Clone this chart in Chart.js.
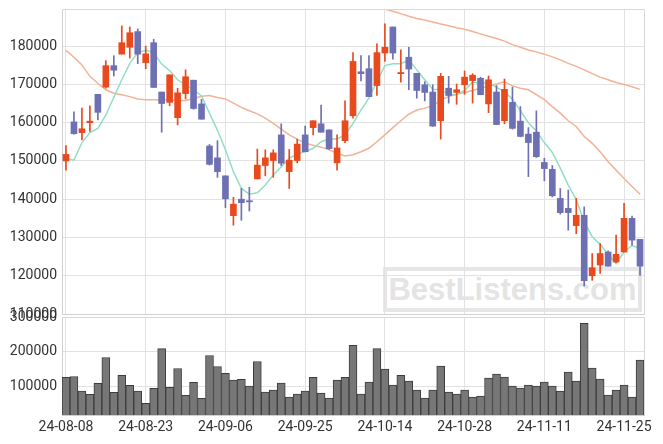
<!DOCTYPE html>
<html>
<head>
<meta charset="utf-8">
<script src="https://cdn.jsdelivr.net/npm/chart.js@4.4.1/dist/chart.umd.min.js"></script>
<style>
body { margin: 0; background: #fff; width: 663px; height: 444px; overflow: hidden; position: relative; }
#mark { position: absolute; left: 383px; top: 267px; width: 251px; height: 37px; border: 4px solid #e6e6e6;
        color: #e4e4e4; font: bold 31px "Liberation Sans", Arial, sans-serif; line-height: 37px; text-align: center; }
canvas { position: absolute; left: 0; }
#price { top: 0; }
#volume { top: 300px; }
</style>
</head>
<body>
<div id="mark">BestListens.com</div>
<canvas id="price" width="663" height="330"></canvas>
<canvas id="volume" width="663" height="144"></canvas>
<script>
var dates = ["24-08-08","24-08-09","24-08-12","24-08-13","24-08-14","24-08-16","24-08-19","24-08-20","24-08-21","24-08-22",
    "24-08-23","24-08-26","24-08-27","24-08-28","24-08-29","24-08-30","24-09-02","24-09-03","24-09-04","24-09-05",
    "24-09-06","24-09-09","24-09-10","24-09-11","24-09-12","24-09-13","24-09-19","24-09-20","24-09-23","24-09-24",
    "24-09-25","24-09-26","24-09-27","24-09-30","24-10-02","24-10-04","24-10-07","24-10-08","24-10-10","24-10-11",
    "24-10-14","24-10-15","24-10-16","24-10-17","24-10-18","24-10-21","24-10-22","24-10-23","24-10-24","24-10-25",
    "24-10-28","24-10-29","24-10-30","24-10-31","24-11-01","24-11-04","24-11-05","24-11-06","24-11-07","24-11-08",
    "24-11-11","24-11-12","24-11-13","24-11-14","24-11-15","24-11-18","24-11-19","24-11-20","24-11-21","24-11-22",
    "24-11-25","24-11-26","24-11-27"];

var open = [150000,160200,157400,160000,167400,169300,174900,177900,179700,183800,
    175700,180900,168000,165300,161300,167600,171100,164900,153900,150800,
    146100,135700,140000,139600,145300,148800,150100,156800,147200,150100,
    156800,158700,159700,158100,149500,155300,161800,173300,174100,169700,
    178200,185000,172800,177100,172900,169900,168000,160500,169000,167900,
    169900,171000,171600,164900,168000,160500,165300,160400,157000,157500,
    149600,147800,140200,137600,133100,135800,120000,122800,126200,123600,
    126200,135000,129500];
var high = [154000,162800,163800,164400,167400,176200,177500,185300,185000,184500,
    180000,181800,168000,172500,169000,173800,171100,166100,154300,155300,
    146100,140500,142800,143100,153100,152900,152900,159700,153000,155700,
    159100,160500,164600,158100,156800,165700,178300,177500,177500,180600,
    185800,185000,179000,179700,172900,170700,169900,172900,172100,170100,
    173500,172800,171900,172200,169700,171400,169300,164200,158700,163100,
    150700,148800,142800,142400,140200,138000,125800,128400,126500,130600,
    138900,135600,129500];
var low = [147600,157000,155500,157700,160700,169000,172200,177900,176900,175400,
    174100,169200,157500,164400,159400,166200,163500,160900,148900,145700,
    137800,133200,134500,136900,145300,146100,145700,148800,142800,149500,
    152400,156800,157500,153000,147600,154800,161200,170900,166800,167100,
    176000,176600,170600,168600,166400,165700,159000,155700,165100,164800,
    167400,165100,167300,162600,159500,159700,158300,156300,145900,150900,
    144800,140600,136100,131900,131000,117300,118800,120600,122500,123400,
    126200,128000,120100];
var close = [151700,157100,158400,160400,162700,174900,173700,180900,183500,177900,
    178000,169200,165000,172500,167800,172000,163700,160900,149100,147200,
    140100,138700,139100,139300,148900,150800,152100,149400,150200,154400,
    152400,160500,157500,153200,153400,160500,176000,172800,166800,178300,
    179700,178200,173100,174000,168400,167900,159100,172100,167100,168600,
    171900,172400,167300,171200,159500,168700,158500,156400,154800,151100,
    148000,140900,136500,136500,135800,118700,122100,125800,122500,125600,
    135000,129300,122500];

var ma5 = [150700,150200,154800,157400,158500,162000,166600,171200,175500,178300,
    178900,178300,175300,173600,171200,169900,168600,167000,162500,158000,
    152900,147200,142800,141300,141700,143700,146300,148500,150700,151800,
    152400,153300,155000,155700,155700,156800,159800,163300,166400,170700,
    174900,175400,175400,176400,173800,171200,168700,168600,167400,167300,
    168400,170600,170300,170500,169200,168100,166100,163100,160000,157800,
    154800,152200,148100,143700,139900,134100,130200,128200,125600,123200,
    126200,127900,127100];
var ma20 = [178900,177100,175100,172100,170300,168600,167700,167300,166800,166200,
    166000,166000,165900,165900,165800,165800,166300,166900,167100,166600,
    166200,165100,164000,163100,162300,161200,159800,158300,156800,155700,
    154600,154100,153600,152900,152000,151300,151600,152400,153300,155000,
    156800,158700,160500,162200,163300,163800,164400,165900,166800,167400,
    167900,168400,169000,169600,170100,170700,169600,169000,168600,167300,
    166000,164200,162500,160500,159000,156400,154600,152400,149800,147600,
    145400,143300,141300];
var ma60 = [null,null,null,null,null,null,null,null,null,null,
    null,null,null,null,null,null,null,null,null,null,
    null,null,null,null,null,null,null,null,null,null,
    null,null,null,null,null,null,null,null,null,null,
    189700,189100,188500,187800,187200,186800,186300,185800,185300,184800,
    184400,183800,183200,182600,182000,181300,180400,179700,179000,178500,
    177900,177200,176400,175500,174700,173800,172800,171900,171200,170500,
    170000,169400,168700];

var volume = [126700,129500,87600,78100,109500,183800,83800,132400,103800,87600,
    52400,95200,209500,98100,152400,75200,112400,66700,189500,158100,
    138500,119000,121000,101900,172400,84800,90500,110500,70500,79000,
    87600,126700,81900,67600,119000,126700,219000,79000,113300,209500,
    150500,104800,132400,116200,90500,67600,90500,159000,84800,79000,
    90500,70500,73300,124800,136200,127600,101900,96200,104800,101900,
    113300,101900,87600,141900,116200,281900,153300,121900,76200,90500,
    104800,70500,176200];

var priceTicks = [110000, 120000, 130000, 140000, 150000, 160000, 170000, 180000];
var volumeTicks = [100000, 200000, 300000];

var UP = "#e8491d", DOWN = "#6d70b3";
var candleColors = close.map(function (c, i) { return c >= open[i] ? UP : DOWN; });

Chart.defaults.font.family = "Roboto";
Chart.defaults.font.size = 14;
Chart.defaults.color = "#333";
Chart.defaults.animation = false;

var gridEvery10 = function (ctx) { return ctx.index % 10 === 0 ? "#e2e2e2" : "rgba(0,0,0,0)"; };

// thin frame on the top and right of the plot area
var frame = {
    id: "frame",
    afterDraw: function (chart) {
        var a = chart.chartArea, c = chart.ctx;
        c.save();
        c.strokeStyle = "#d8d8d8";
        c.lineWidth = 1;
        c.beginPath();
        c.moveTo(a.left, a.top + 0.5);
        c.lineTo(a.right + 0.5, a.top + 0.5);
        c.lineTo(a.right + 0.5, a.bottom);
        c.stroke();
        c.restore();
    }
};

function fixY(s) { s.width = 62; s.paddingTop = 0; s.paddingBottom = 0; }
function useTicks(list) {
    return function (s) { s.ticks = list.map(function (v) { return { value: v }; }); };
}

new Chart(document.getElementById("price"), {
    data: {
        labels: dates,
        datasets: [
            {
                type: "bar",
                data: open.map(function (o, i) { return [o, close[i]]; }),
                backgroundColor: candleColors,
                barThickness: 6,
                minBarLength: 1,
                grouped: false,
            },
            {
                type: "bar",
                data: low.map(function (l, i) { return [l, high[i]]; }),
                backgroundColor: candleColors,
                barThickness: 1,
                grouped: false,
            },
            { type: "line", data: ma5, borderColor: "#93dec3", borderWidth: 1.5, pointRadius: 0 },
            { type: "line", data: ma20, borderColor: "#f2b294", borderWidth: 1.5, pointRadius: 0 },
            { type: "line", data: ma60, borderColor: "#f2b294", borderWidth: 1.5, pointRadius: 0 },
        ],
    },
    options: {
        responsive: false,
        layout: { padding: { left: 0, right: 19, top: 9, bottom: 16 } },
        plugins: { legend: { display: false }, tooltip: { enabled: false } },
        scales: {
            x: {
                offset: true,
                grid: { offset: false, drawTicks: false, color: gridEvery10 },
                border: { color: "#cfcfcf" },
                ticks: { display: false },
                afterFit: function (s) { s.height = 0; s.paddingLeft = 0; s.paddingRight = 0; },
            },
            y: {
                min: 110000,
                max: 189700,
                grid: { drawTicks: false, color: "#e2e2e2" },
                border: { color: "#cfcfcf" },
                ticks: { padding: 5, callback: function (v) { return String(v); } },
                afterBuildTicks: useTicks(priceTicks),
                afterFit: fixY,
            },
        },
    },
    plugins: [frame],
});

new Chart(document.getElementById("volume"), {
    type: "bar",
    data: {
        labels: dates,
        datasets: [
            {
                data: volume,
                backgroundColor: "#777777",
                borderColor: "#3c3c3c",
                borderWidth: 1,
                barPercentage: 1,
                categoryPercentage: 1,
            },
        ],
    },
    options: {
        responsive: false,
        layout: { padding: { left: 0, right: 19, top: 17, bottom: 0 } },
        plugins: { legend: { display: false }, tooltip: { enabled: false } },
        scales: {
            x: {
                offset: true,
                grid: { offset: false, drawTicks: false, color: gridEvery10 },
                border: { color: "#cfcfcf" },
                ticks: {
                    autoSkip: false,
                    maxRotation: 0,
                    padding: 4,
                    callback: function (v, i) { return i % 10 === 0 ? dates[i] : ""; },
                },
                afterFit: function (s) { s.height = 29; s.paddingLeft = 0; s.paddingRight = 0; },
            },
            y: {
                min: 19000,
                max: 300000,
                grid: { drawTicks: false, color: "#e2e2e2" },
                border: { color: "#cfcfcf" },
                ticks: { padding: 5, callback: function (v) { return String(v); } },
                afterBuildTicks: useTicks(volumeTicks),
                afterFit: fixY,
            },
        },
    },
    plugins: [frame],
});
</script>
</body>
</html>
